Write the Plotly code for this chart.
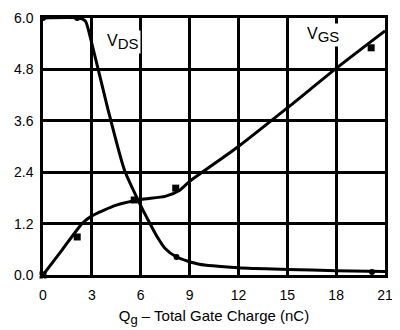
import plotly.graph_objects as go

# V_DS curve (left axis, volts)
vds_q = [0, 2.2, 2.6, 3.0, 4.0, 5.0, 6.0, 6.5, 7.0, 7.5, 8.2, 9.6, 12, 15, 18, 21]
vds_v = [6.0, 6.0, 5.93, 5.4, 3.85, 2.45, 1.62, 1.25, 0.9, 0.62, 0.42, 0.25, 0.17, 0.13, 0.10, 0.08]
# V_GS curve (right axis, volts)
vgs_q = [0, 1.2, 2.4, 3.0, 4.5, 6.0, 7.5, 8.4, 9.0, 12, 15, 18, 21]
vgs_v = [0, 0.5, 1.0, 1.15, 1.36, 1.47, 1.53, 1.65, 1.82, 2.5, 3.25, 4.02, 4.75]
# measured points
vds_pts_q = [0, 2.1, 8.2, 20.2]
vds_pts_v = [6.0, 6.0, 0.42, 0.07]
vgs_pts_q = [0, 2.1, 5.6, 8.15, 20.15]
vgs_pts_v = [0, 0.74, 1.46, 1.69, 4.42]

x_ticks = [0, 3, 6, 9, 12, 15, 18, 21]
left_ticks = [0.0, 1.2, 2.4, 3.6, 4.8, 6.0]
right_ticks = [0, 1, 2, 3, 4, 5]

font_family = "Liberation Sans, Arial, sans-serif"

fig = go.Figure()
fig.add_trace(go.Scatter(x=vds_q, y=vds_v, mode="lines",
                         line=dict(color="black", width=3, shape="spline", smoothing=0.6),
                         showlegend=False))
fig.add_trace(go.Scatter(x=vgs_q, y=vgs_v, mode="lines", yaxis="y2",
                         line=dict(color="black", width=3, shape="spline", smoothing=0.6),
                         showlegend=False))
fig.add_trace(go.Scatter(x=vds_pts_q, y=vds_pts_v, mode="markers",
                         marker=dict(color="black", size=6, symbol="circle"),
                         showlegend=False, cliponaxis=False))
fig.add_trace(go.Scatter(x=vgs_pts_q, y=vgs_pts_v, mode="markers", yaxis="y2",
                         marker=dict(color="black", size=7, symbol="square"),
                         showlegend=False, cliponaxis=False))

fig.update_layout(
    width=392, height=322,
    margin=dict(l=35, r=15, t=10, b=55),
    paper_bgcolor="white", plot_bgcolor="white",
    font=dict(family=font_family, size=14, color="black"),
    xaxis=dict(range=[0, 21], tickvals=x_ticks, ticktext=[str(t) for t in x_ticks],
               showgrid=True, gridcolor="black", gridwidth=2.5,
               showline=True, linecolor="black", linewidth=2.5, mirror=True,
               zeroline=False, ticks="outside", ticklen=5, tickcolor="white",
               automargin=False,
               title=dict(text="Q<sub><span style='font-size:13px'>g</span></sub> – Total Gate Charge (nC)",
                          font=dict(size=15), standoff=9)),
    yaxis=dict(range=[0, 6], tickvals=left_ticks,
               ticktext=[f"{t:.1f}" for t in left_ticks],
               showgrid=True, gridcolor="black", gridwidth=2.5,
               showline=True, linecolor="black", linewidth=2.5, mirror=True,
               zeroline=False, ticks="outside", ticklen=4, tickcolor="white",
               automargin=False),
    yaxis2=dict(range=[0, 5], tickvals=right_ticks,
                ticktext=[str(t) for t in right_ticks],
                overlaying="y", side="right", showgrid=False,
                showline=True, linecolor="black", linewidth=2.5,
                zeroline=False, ticks="outside", ticklen=2, tickcolor="white",
                automargin=False),
    annotations=[
        dict(x=3.8, y=5.45, xref="x", yref="y",
             text="V<sub><span style='font-size:15px'>DS</span></sub>",
             showarrow=False, xanchor="left", yanchor="middle",
             font=dict(size=16), bgcolor="white"),
        dict(x=16.1, y=5.6, xref="x", yref="y",
             text="V<sub><span style='font-size:15px'>GS</span></sub>",
             showarrow=False, xanchor="left", yanchor="middle",
             font=dict(size=16), bgcolor="white"),
    ],
)

fig.write_html("out.html")
